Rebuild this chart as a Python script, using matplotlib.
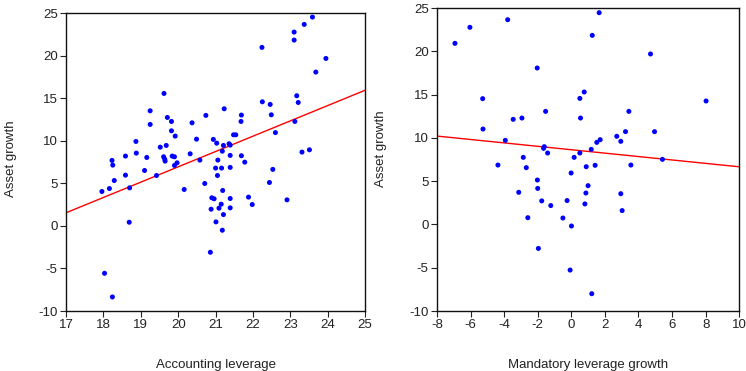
import matplotlib
matplotlib.use('Agg')
import matplotlib.pyplot as plt
import numpy as np

plt.rcParams['font.family'] = ['Liberation Sans', 'DejaVu Sans']
plt.rcParams['axes.unicode_minus'] = False

# Left panel: accounting leverage vs asset growth
acc_lev = [23.59, 23.37, 23.10, 23.10, 22.24, 23.95, 23.68, 19.62, 23.17, 23.21,
           22.25, 22.46, 19.25, 21.23, 22.49, 19.71, 19.82, 20.74, 21.69, 21.68,
           19.25, 20.37, 19.82, 19.92, 22.60, 23.12, 20.49, 20.94, 21.03, 21.21,
           21.36, 21.39, 21.48, 21.54, 18.87, 19.52, 19.68, 21.18, 23.31, 23.51,
           18.23, 18.25, 18.59, 18.88, 19.16, 19.61, 19.64, 19.65, 19.84, 19.90,
           19.97, 19.90, 20.32, 20.58, 21.06, 21.39, 21.69, 21.78, 21.00, 21.16,
           21.39, 21.05, 22.53, 19.10, 18.59, 18.29, 17.96, 18.16, 18.70, 19.42,
           20.16, 20.71, 22.44, 21.19, 20.90, 20.96, 21.39, 21.88, 21.98, 21.15,
           21.09, 21.39, 20.88, 21.21, 22.91, 21.01, 18.69, 21.18, 20.86, 18.03,
           18.24]
growth_a = [24.53, 23.67, 22.77, 21.83, 20.97, 19.67, 18.07, 15.56, 15.29, 14.50,
            14.58, 14.27, 13.52, 13.76, 13.05, 12.74, 12.27, 12.98, 13.02, 12.27,
            11.92, 12.11, 11.17, 10.55, 10.96, 12.27, 10.19, 10.16, 9.72, 9.45,
            9.65, 9.49, 10.70, 10.70, 9.92, 9.25, 9.45, 8.78, 8.67, 8.94,
            7.69, 7.14, 8.20, 8.55, 8.04, 8.12, 7.84, 7.61, 8.20, 8.12,
            7.41, 7.10, 8.47, 7.73, 7.73, 8.28, 8.24, 7.49, 6.79, 6.79,
            6.87, 5.92, 6.64, 6.51, 5.96, 5.33, 4.04, 4.39, 4.47, 5.92,
            4.28, 4.98, 5.10, 4.16, 3.30, 3.18, 3.22, 3.38, 2.51, 2.55,
            2.08, 2.12, 1.96, 1.33, 3.06, 0.47, 0.43, -0.51, -3.10, -5.57,
            -8.35]
fit_a = [1.80, -29.06]  # slope, intercept

# Right panel: mandatory leverage growth vs asset growth
mand_lev = [1.66, -3.79, -6.04, -6.93, 1.25, 4.72, -2.03, 0.77, 0.51, -5.28,
            8.03, -1.53, 3.43, -3.46, -2.94, 0.55, -5.26, 2.71, 3.23, 4.96,
            -3.93, 2.95, 1.72, 1.52, -1.61, -1.65, -1.41, 1.19, 0.51, 0.17,
            -2.86, 5.43, -4.37, -2.68, 0.89, 1.42, 3.55, -0.01, -2.02, -2.00,
            1.00, -3.13, 0.87, 2.95, -1.76, -0.25, -1.22, 0.81, 3.03, -2.59,
            -0.50, 0.01, -1.96, -0.07, 1.22]
growth_m = [24.46, 23.65, 22.77, 20.92, 21.84, 19.69, 18.07, 15.30, 14.56, 14.53,
            14.26, 13.06, 13.06, 12.14, 12.29, 12.29, 11.02, 10.18, 10.72, 10.72,
            9.71, 9.60, 9.79, 9.48, 8.98, 8.79, 8.25, 8.67, 8.25, 7.75,
            7.75, 7.52, 6.86, 6.56, 6.67, 6.83, 6.86, 5.94, 5.13, 4.16,
            4.48, 3.71, 3.63, 3.55, 2.72, 2.76, 2.18, 2.37, 1.60, 0.78,
            0.74, -0.18, -2.77, -5.27, -8.00]
fit_m = [-0.197, 8.63]  # slope, intercept

fig = plt.figure(figsize=(7.46, 3.71), dpi=100)
ax1 = fig.add_axes([0.0885, 0.1617, 0.401, 0.803])
ax2 = fig.add_axes([0.5858, 0.1617, 0.405, 0.8167])

panels = [
    (ax1, acc_lev, growth_a, fit_a, (17, 25), range(17, 26), 'Accounting leverage', (-0.163, 0.51)),
    (ax2, mand_lev, growth_m, fit_m, (-8, 10), range(-8, 11, 2), 'Mandatory leverage growth', (-0.167, 0.535)),
]

for ax, x, y, fit, xlim, xticks, xlabel, ylab_pos in panels:
    ax.scatter(x, y, s=13, color='#0000ff', edgecolors='none', zorder=3)
    xs = np.array(xlim)
    ax.plot(xs, fit[0] * xs + fit[1], color='#ff0000', lw=1.0, zorder=2)
    ax.set_xlim(*xlim)
    ax.set_ylim(-10, 25)
    ax.set_xticks(list(xticks))
    ax.set_yticks(range(-10, 26, 5))
    ax.tick_params(direction='out', length=4, width=0.8, labelsize=9.5,
                   colors='#222222', pad=2, top=False, right=False)
    for s in ax.spines.values():
        s.set_linewidth(1.0)
        s.set_color('#111111')
    ax.set_xlabel(xlabel, fontsize=9.5, color='#222222', labelpad=20)
    ax.set_ylabel('Asset growth', fontsize=9.5, color='#222222')
    ax.yaxis.set_label_coords(*ylab_pos)

fig.savefig('out.png', dpi=100)
